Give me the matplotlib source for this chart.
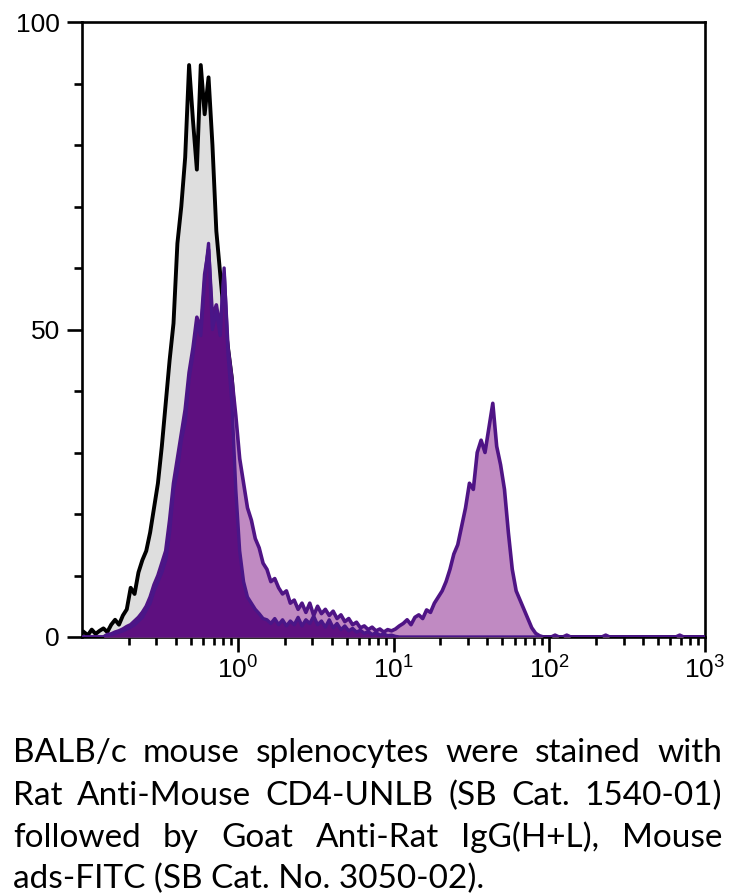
import numpy as np
import matplotlib
matplotlib.use('Agg')
import matplotlib.pyplot as plt
from matplotlib.ticker import LogLocator, MultipleLocator, NullFormatter

plt.rcParams['font.family'] = ['Liberation Sans', 'DejaVu Sans']
plt.rcParams['mathtext.fontset'] = 'custom'
plt.rcParams['mathtext.rm'] = 'Liberation Sans'
plt.rcParams['mathtext.it'] = 'Liberation Sans:italic'

# histogram channels: 160 bins spanning 10^-1 .. 10^3 (log scale)
n_bins = 160
log_lo, log_hi = -1.0, 3.0

# unstained / control (grey, black outline)
control = [0.8, 0.3, 1.2, 0.5, 1.0, 1.4, 0.8, 2.0, 2.8, 2.0, 3.5, 4.5, 8.0, 7.0, 10.5, 12.5,
           14, 17, 21, 25, 31, 38, 45, 51, 64, 70, 78, 93, 84, 76, 93, 85,
           91, 80, 66, 59, 52, 47, 42, 33, 26, 20, 15, 11, 8.5, 6.5, 5.0, 4.0,
           3.2, 2.6, 2.2, 1.8, 1.5, 1.3, 1.0, 1.2, 0.8, 1.0, 0.6, 0.8, 0.5, 0.7, 0.4, 0.6,
           0.3, 0.5, 0.3, 0.4, 0.2, 0.5, 0.8, 0.3, 0.2, 0.9, 0.2, 0.1] + [0] * 84

# secondary antibody only (dark purple)
secondary = [0, 0, 0, 0, 0, 0, 0.3, 0.4, 0.6, 0.8, 1.0, 1.3, 1.6, 2.0, 2.6, 3.2,
             4.4, 5.5, 7.5, 9.0, 10.5, 12.5, 17, 24, 27, 32, 35, 42, 46, 51, 49, 58,
             64, 50, 53, 49, 60, 46, 38, 24, 14, 9.0, 6.5, 5.5, 4.5, 3.8, 3.0, 2.8,
             2.2, 3.0, 2.0, 2.8, 1.8, 2.6, 2.0, 3.2, 1.8, 2.8, 2.2, 3.4, 2.0, 2.6, 1.6, 2.8,
             1.5, 2.2, 1.2, 1.8, 1.0, 1.4, 0.8, 1.1, 0.6, 0.9, 0.4, 0.7, 0.3, 0.5, 0.2, 0.3,
             0.1] + [0] * 79

# CD4 + secondary (light purple)
cd4 = [0, 0, 0, 0, 0, 0, 0.4, 0.5, 0.8, 1.0, 1.3, 1.7, 2.0, 2.6, 3.2, 4.0,
       5.0, 6.5, 8.5, 10, 12, 14, 19, 25, 29, 33, 37, 43, 47, 52, 50, 59,
       63, 52, 54, 50, 59, 47, 42, 36, 29, 25, 21, 19, 16, 14.5, 12, 11,
       9, 9.5, 8, 7, 7.5, 5.5, 6, 4.5, 5.5, 4, 5.5, 3.5, 5, 3.8, 4.5, 3.5,
       4.2, 3.0, 3.6, 2.5, 3.0, 2.0, 2.4, 1.5, 1.8, 1.2, 1.6, 1.0, 1.3, 0.8, 1.2, 1.0,
       1.3, 1.8, 2.2, 2.8, 2.0, 3.2, 3.6, 3.0, 4.4, 4.0, 5.5, 6.5, 7.5, 9, 11, 13.5,
       15, 18, 21, 25, 24, 30, 32, 30, 34, 38, 31, 28, 24, 17, 11, 7.5,
       6, 4.5, 3, 1.5, 0.6, 0.2, 0, 0, 0, 0.3, 0, 0, 0.3, 0, 0, 0,
       0, 0, 0, 0, 0, 0, 0.3, 0, 0, 0, 0, 0, 0, 0, 0, 0,
       0, 0, 0, 0, 0, 0, 0, 0, 0, 0.3, 0, 0, 0, 0, 0, 0]

x_labels = ['$10^{0}$', '$10^{1}$', '$10^{2}$', '$10^{3}$']
x_major = [1, 10, 100, 1000]
y_major = [0, 50, 100]

caption = ['BALB/c mouse splenocytes were stained with',
           'Rat Anti-Mouse CD4-UNLB (SB Cat. 1540-01)',
           'followed by Goat Anti-Rat IgG(H+L), Mouse',
           'ads-FITC (SB Cat. No. 3050-02).']

edges = np.logspace(log_lo, log_hi, n_bins + 1)
centers = np.sqrt(edges[:-1] * edges[1:])

W, H = 734, 896
fig = plt.figure(figsize=(W / 100, H / 100), dpi=100)
ax = fig.add_axes([82 / W, 1 - 637 / H, (705 - 82) / W, (637 - 22) / H])

ax.fill_between(centers, control, 0, color='#dedede', lw=0, zorder=1)
ax.plot(centers, control, color='black', lw=2.8, zorder=2)
ax.fill_between(centers, cd4, 0, color='#c08ac2', lw=0, zorder=3)
ax.plot(centers, cd4, color='#4f1485', lw=2.6, zorder=4)
ax.fill_between(centers, secondary, 0, color='#5e1080', lw=0, zorder=5)
ax.plot(centers, secondary, color='#4a1688', lw=2.4, zorder=6)

ax.set_xscale('log')
ax.set_xlim(0.1, 1000)
ax.set_ylim(0, 100)
ax.set_xticks(x_major)
ax.set_xticklabels(x_labels)
ax.xaxis.set_minor_locator(LogLocator(base=10, subs=np.arange(2, 10)))
ax.xaxis.set_minor_formatter(NullFormatter())
ax.set_yticks(y_major)
ax.set_yticklabels([str(v) for v in y_major])
ax.yaxis.set_minor_locator(MultipleLocator(10))

for s in ax.spines.values():
    s.set_linewidth(1.9)
ax.tick_params(which='major', length=11, width=1.9, labelsize=19, direction='out')
ax.tick_params(which='minor', length=5.5, width=1.9, direction='out')
ax.tick_params(axis='y', which='major', pad=5)
ax.tick_params(axis='x', which='major', pad=3)

# justified caption
cap_font = ['Lato', 'DejaVu Sans']
cap_size = 24
x0, x1 = 13, 722
baselines = [762, 805, 847, 888]
fig.canvas.draw()
renderer = fig.canvas.get_renderer()
for k, line in enumerate(caption):
    yb = 1 - baselines[k] / H
    if k == len(caption) - 1:
        fig.text(x0 / W, yb, line, fontsize=cap_size, family=cap_font, va='baseline')
        continue
    words = line.split(' ')
    texts = [fig.text(0, yb, w, fontsize=cap_size, family=cap_font, va='baseline') for w in words]
    widths = [t.get_window_extent(renderer).width for t in texts]
    gap = (x1 - x0 - sum(widths)) / (len(words) - 1)
    xp = x0
    for t, w in zip(texts, widths):
        t.set_x(xp / W)
        xp += w + gap

fig.savefig('out.png', dpi=100)
